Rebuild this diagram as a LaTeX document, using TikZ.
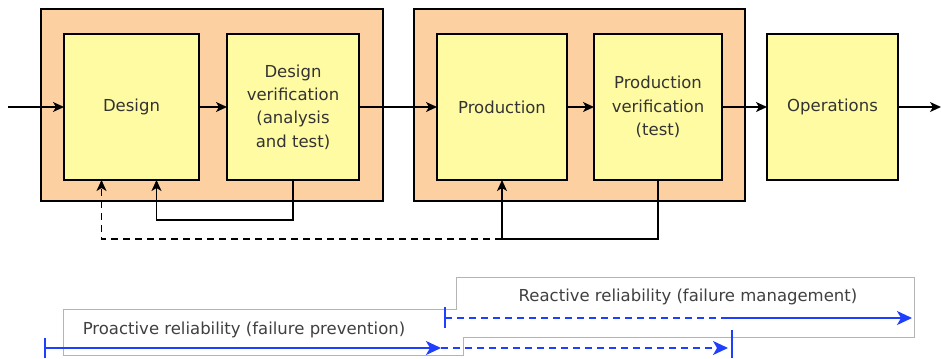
\documentclass[tikz,border=0pt]{standalone}
\usepackage{fontspec}
\setmainfont{DejaVu Sans}
\usetikzlibrary{arrows.meta}
\definecolor{peach}{HTML}{FDD0A2}
\definecolor{paleyellow}{HTML}{FFFBA3}
\definecolor{boxgray}{HTML}{B4B4B4}
\definecolor{relblue}{HTML}{1F3FFF}

\begin{document}
\begin{tikzpicture}[x=1bp, y=-1bp,
    every node/.style={font=\fontsize{16.5bp}{23.3bp}\selectfont, text=black!80, align=center, inner sep=0pt, outer sep=0pt},
    stage/.style={draw=black, line width=1.5bp, fill=paleyellow, minimum height=146bp},
    flow/.style={line width=1.5bp, -{Stealth[length=11bp, width=10bp, inset=3bp]}},
    rel/.style={relblue, line width=1.7bp},
    relhead/.style={-{Stealth[length=15bp, width=14bp, inset=4bp]}}]
    \useasboundingbox (0,0) rectangle (941,358);

    % the two groups
    \draw[line width=1.5bp, fill=peach] (41,9) rectangle (383,201);
    \draw[line width=1.5bp, fill=peach] (414,9) rectangle (745,201);

    \node[stage, minimum width=135bp] (design) at (131.5,107) {Design};
    \node[stage, minimum width=132bp] (dver) at (293,107) {Design\\verification\\(analysis\\and test)};
    \node[stage, minimum width=130bp] (prod) at (502,107) {Production};
    \node[stage, minimum width=128bp] (pver) at (658,107) {Production\\verification\\(test)};
    \node[stage, minimum width=131bp] (ops) at (832.5,107) {Operations};

    \coordinate (in) at (8,107);
    \coordinate (out) at (941,107);
    \draw[flow] (in) -- (design);
    \draw[flow] (design) -- (dver);
    \draw[flow] (dver) -- (prod);
    \draw[flow] (prod) -- (pver);
    \draw[flow] (pver) -- (ops);
    \draw[flow] (ops) -- (out);

    % feedback loops
    \draw[flow] (dver.south) -- ++(0,40) -| ([xshift=25bp]design.south);
    \coordinate (join) at ([yshift=-59bp]prod.south);
    \draw[flow] (pver.south) |- (join) -- (prod.south);
    \draw[flow, dash pattern=on 7bp off 5bp] (join) -| ([xshift=-30bp]design.south);

    % reliability spans
    \draw[boxgray, line width=1bp, fill=white] (63,309) -- (456,309) -- (456,277) -- (914,277)
        -- (914,337) -- (463,337) -- (463,355) -- (63,355) -- cycle;
    \node[text=black!75] (proactive) at (244,330) {Proactive reliability (failure prevention)};
    \node[text=black!75] (reactive) at (688,297) {Reactive reliability (failure management)};

    \draw[rel] (45,338) -- (45,358);
    \draw[rel, relhead] (45,348) -- (441,348);
    \draw[rel, relhead, dash pattern=on 7bp off 5bp] (441,348) -- (728,348);
    \draw[rel] (732,330) -- (732,358);

    \draw[rel] (445,307) -- (445,328);
    \draw[rel, dash pattern=on 7bp off 5bp] (445,318) -- (728,318);
    \draw[rel, relhead] (728,318) -- (912,318);
\end{tikzpicture}
\end{document}
